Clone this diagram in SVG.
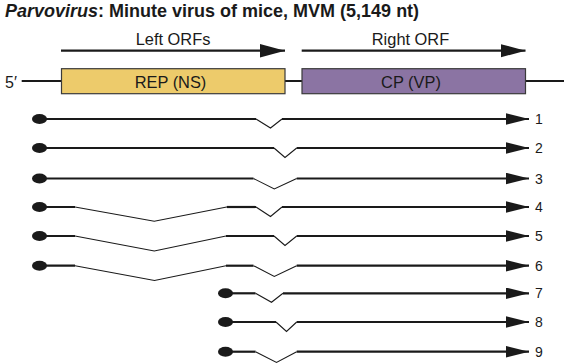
<svg xmlns="http://www.w3.org/2000/svg" width="564" height="364" viewBox="0 0 564 364">
<defs>
<style>
text{font-family:"Liberation Sans",Arial,sans-serif;fill:#1a1a1a}
.title{font-size:18px;font-weight:bold}
.lbl{font-size:16.4px;text-anchor:middle}
.num{font-size:14px}
.thick{stroke:#1a1a1a;stroke-width:2.2;fill:none}
.thin{stroke:#1a1a1a;stroke-width:1.1;fill:none;stroke-linejoin:miter}
.box{stroke:#3a3a3a;stroke-width:1.2}
.dot{fill:#1a1a1a}
</style>
<marker id="ah" markerUnits="userSpaceOnUse" markerWidth="24" markerHeight="12" refX="23" refY="5.75" orient="auto">
<path d="M0,0 L23,5.75 L0,11.5 z" fill="#1a1a1a"/>
</marker>
<marker id="ahBig" markerUnits="userSpaceOnUse" markerWidth="26" markerHeight="14" refX="25" refY="6.7" orient="auto">
<path d="M0,0 L25,6.7 L0,13.4 z" fill="#1a1a1a"/>
</marker>
</defs>
<rect width="564" height="364" fill="#ffffff"/>
<text class="title" x="5" y="17"><tspan font-style="italic">Parvovirus</tspan>: Minute virus of mice, MVM (5,149 nt)</text>

<g id="orf-arrows">
<line class="thick" x1="61" y1="50.7" x2="285" y2="50.7" marker-end="url(#ahBig)"/>
<text class="lbl" x="173" y="44.7">Left ORFs</text>
<line class="thick" x1="301.7" y1="50.7" x2="525.5" y2="50.7" marker-end="url(#ahBig)"/>
<text class="lbl" x="410.5" y="44.7">Right ORF</text>
</g>

<g id="genome">
<text x="5" y="87.5" font-size="16px">5′</text>
<line class="thick" x1="21.7" y1="81" x2="564" y2="81"/>
</g>
<g id="rep">
<rect class="box" x="61.5" y="68.7" width="223.5" height="25" fill="#EDCB6B"/>
<text class="lbl" x="170.5" y="88">REP (NS)</text>
</g>
<g id="cp">
<rect class="box" x="302" y="68.7" width="223.5" height="25" fill="#8B74A3"/>
<text class="lbl" x="411" y="88">CP (VP)</text>
</g>

<g id="connectors">
<g id="t1">
<ellipse class="dot" cx="39.5" cy="119" rx="7.5" ry="5"/>
<line class="thick" x1="39.5" y1="119" x2="256" y2="119"/>
<polyline class="thin" points="256,119 270.5,128 282,119"/>
<line class="thick" x1="282" y1="119" x2="529" y2="119" marker-end="url(#ah)"/>
<text class="num" x="535" y="124">1</text>
</g>
<g id="t2">
<ellipse class="dot" cx="39.5" cy="148" rx="7.5" ry="5"/>
<line class="thick" x1="39.5" y1="148" x2="274" y2="148"/>
<polyline class="thin" points="274,148 285,157.5 296.7,148"/>
<line class="thick" x1="296.7" y1="148" x2="529" y2="148" marker-end="url(#ah)"/>
<text class="num" x="535" y="153">2</text>
</g>
<g id="t3">
<ellipse class="dot" cx="39.5" cy="178.5" rx="7.5" ry="5"/>
<line class="thick" x1="39.5" y1="178.5" x2="253.5" y2="178.5"/>
<polyline class="thin" points="253.5,178.5 274.3,189 296.7,178.5"/>
<line class="thick" x1="296.7" y1="178.5" x2="529" y2="178.5" marker-end="url(#ah)"/>
<text class="num" x="535" y="183.5">3</text>
</g>
<g id="t4">
<ellipse class="dot" cx="39.5" cy="207" rx="7.5" ry="5"/>
<line class="thick" x1="39.5" y1="207" x2="75" y2="207"/>
<polyline class="thin" points="75,207 154.3,221.3 226.7,207"/>
<line class="thick" x1="226.7" y1="207" x2="256" y2="207"/>
<polyline class="thin" points="256,207 270.5,216.5 282,207"/>
<line class="thick" x1="282" y1="207" x2="529" y2="207" marker-end="url(#ah)"/>
<text class="num" x="535" y="212">4</text>
</g>
<g id="t5">
<ellipse class="dot" cx="39.5" cy="236" rx="7.5" ry="5"/>
<line class="thick" x1="39.5" y1="236" x2="75" y2="236"/>
<polyline class="thin" points="75,236 154.3,251 226,236"/>
<line class="thick" x1="226" y1="236" x2="274" y2="236"/>
<polyline class="thin" points="274,236 285,245.5 296.7,236"/>
<line class="thick" x1="296.7" y1="236" x2="529" y2="236" marker-end="url(#ah)"/>
<text class="num" x="535" y="241">5</text>
</g>
<g id="t6">
<ellipse class="dot" cx="39.5" cy="265.7" rx="7.5" ry="5"/>
<line class="thick" x1="39.5" y1="265.7" x2="75" y2="265.7"/>
<polyline class="thin" points="75,265.7 154.5,280.5 226,265.7"/>
<line class="thick" x1="226" y1="265.7" x2="253.5" y2="265.7"/>
<polyline class="thin" points="253.5,265.7 274.3,276.5 296.7,265.7"/>
<line class="thick" x1="296.7" y1="265.7" x2="529" y2="265.7" marker-end="url(#ah)"/>
<text class="num" x="535" y="270.7">6</text>
</g>
<g id="t7">
<ellipse class="dot" cx="225.5" cy="293.3" rx="7.5" ry="5"/>
<line class="thick" x1="225.5" y1="293.3" x2="255.5" y2="293.3"/>
<polyline class="thin" points="255.5,293.3 271.5,302.3 283,293.3"/>
<line class="thick" x1="283" y1="293.3" x2="529" y2="293.3" marker-end="url(#ah)"/>
<text class="num" x="535" y="298.3">7</text>
</g>
<g id="t8">
<ellipse class="dot" cx="225.5" cy="322" rx="7.5" ry="5"/>
<line class="thick" x1="225.5" y1="322" x2="276" y2="322"/>
<polyline class="thin" points="276,322 286.5,331.5 296.7,322"/>
<line class="thick" x1="296.7" y1="322" x2="529" y2="322" marker-end="url(#ah)"/>
<text class="num" x="535" y="327">8</text>
</g>
<g id="t9">
<ellipse class="dot" cx="225.5" cy="351.7" rx="7.5" ry="5"/>
<line class="thick" x1="225.5" y1="351.7" x2="255.5" y2="351.7"/>
<polyline class="thin" points="255.5,351.7 276.5,362.5 296.7,351.7"/>
<line class="thick" x1="296.7" y1="351.7" x2="529" y2="351.7" marker-end="url(#ah)"/>
<text class="num" x="535" y="356.7">9</text>
</g>
</g>
</svg>
